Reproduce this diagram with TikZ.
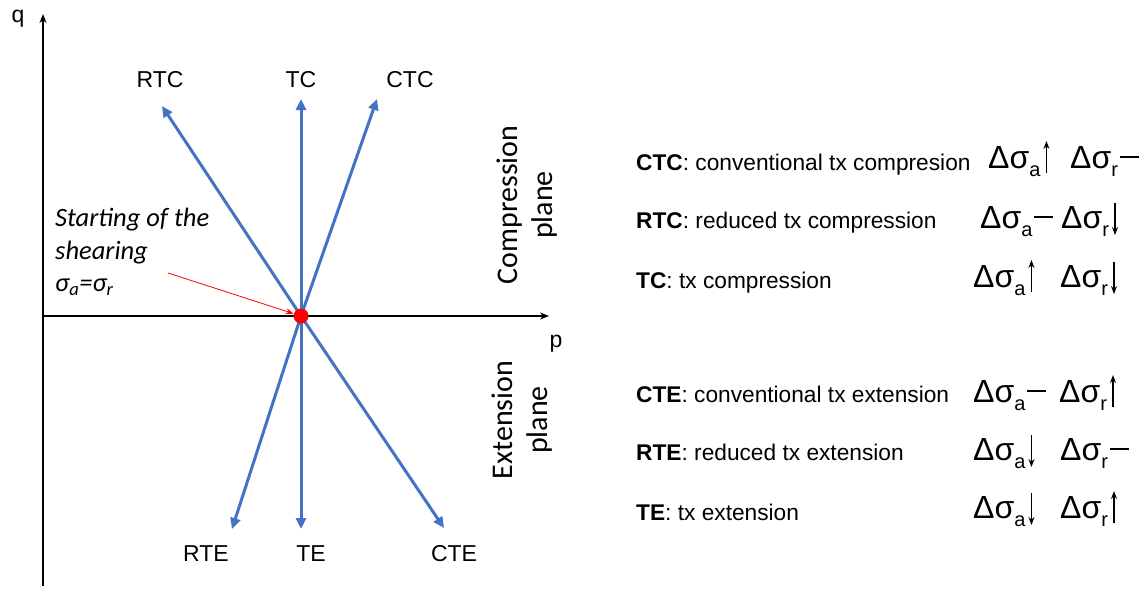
\documentclass[tikz,border=0pt]{standalone}
\usepackage{fontspec}
\setmainfont{Liberation Sans}
\newfontfamily\calib{Carlito}
\usetikzlibrary{arrows.meta}
\definecolor{pathblue}{RGB}{68,114,196}
\newcommand\dsig[2]{Δσ\raisebox{-8pt}{\fontsize{20pt}{22pt}\selectfont #1}#2}
\newcommand\uar{\hspace{3pt}\tikz[baseline=0pt,x=1pt,y=1pt]\draw[line width=1.4pt,-{Stealth[length=8pt,width=6pt]}] (0,-5)--(0,27);}
\newcommand\dar{\hspace{3pt}\tikz[baseline=0pt,x=1pt,y=1pt]\draw[line width=1.4pt,-{Stealth[length=8pt,width=6pt]}] (0,25)--(0,-7);}
\newcommand\flatbar{\hspace{1pt}\tikz[baseline=0pt,x=1pt,y=1pt]\draw[line width=1.4pt] (0,11)--(19,11);}
\begin{document}
\begin{tikzpicture}[x=1pt,y=-1pt,
  axis/.style={line width=1.3pt,-{Stealth[length=9pt,width=7pt]}},
  path/.style={line width=3pt,pathblue,-{Triangle[length=11pt,width=10pt]}},
  lbl/.style={font=\fontsize{23pt}{27pt}\selectfont},
  leg/.style={font=\fontsize{22.7pt}{26pt}\selectfont,anchor=base west,inner sep=0pt},
  dl/.style={font=\fontsize{32pt}{36pt}\selectfont,anchor=base west,inner sep=0pt},
  plane/.style={font=\calib\fontsize{30pt}{35pt}\selectfont,rotate=90,align=center}]
\useasboundingbox (0,0) rectangle (1148,590);
% axes
\coordinate (qs) at (43,586);
\coordinate (qe) at (43,14);
\coordinate (ps) at (43,316);
\coordinate (pe) at (549,316);
\draw[axis] (qs) -- (qe);
\draw[axis] (ps) -- (pe);
\node[lbl] (q) at (18,19) {q};
\node[lbl] (p) at (556,344) {p};
% origin
\coordinate (o) at (301,316);
\coordinate (rtc) at (162,106);
\coordinate (tc) at (301,99);
\coordinate (ctc) at (377,99);
\coordinate (rte) at (232,529);
\coordinate (te) at (301,529);
\coordinate (cte) at (444,528);
\foreach \t in {rtc,tc,ctc,rte,te,cte} \draw[path] (o) -- (\t);
\node[circle,fill=red,minimum size=15pt,inner sep=0pt] (dot) at (o) {};
\node[lbl] (Lrtc) at (160,80) {RTC};
\node[lbl] (Ltc) at (301,80) {TC};
\node[lbl] (Lctc) at (410,80) {CTC};
\node[lbl] (Lrte) at (206,554) {RTE};
\node[lbl] (Lte) at (311,554) {TE};
\node[lbl] (Lcte) at (454,554) {CTE};
% planes
\node[plane] (comp) at (527,205) {Compression\\plane};
\node[plane] (ext) at (522,420) {Extension\\plane};
% annotation
\node[font=\calib\itshape\fontsize{26.5pt}{32.5pt}\selectfont,align=left,anchor=west,inner sep=0pt] (ann) at (55,252)
  {Starting of the\\shearing\\σ\textsubscript{a}=σ\textsubscript{r}};
\coordinate (as) at (168,273);
\draw[red,line width=0.8pt,-{Stealth[length=8pt,width=6pt]}] (as) -- (dot);
% legend
\node[leg] (l1) at (636,170) {\textbf{CTC}: conventional tx compresion};
\node[leg] (l2) at (636,228) {\textbf{RTC}: reduced tx compression};
\node[leg] (l3) at (636,288) {\textbf{TC}: tx compression};
\node[leg] (l4) at (636,402) {\textbf{CTE}: conventional tx extension};
\node[leg] (l5) at (636,460) {\textbf{RTE}: reduced tx extension};
\node[leg] (l6) at (636,520) {\textbf{TE}: tx extension};
\node[dl] (a1) at (988,168) {\dsig{a}{\uar}};
\node[dl] (r1) at (1070,168) {\dsig{r}{\flatbar}};
\node[dl] (a2) at (980,228) {\dsig{a}{\flatbar}};
\node[dl] (r2) at (1061,228) {\dsig{r}{\dar}};
\node[dl] (a3) at (973,287) {\dsig{a}{\uar}};
\node[dl] (r3) at (1060,287) {\dsig{r}{\dar}};
\node[dl] (a4) at (973,402) {\dsig{a}{\flatbar}};
\node[dl] (r4) at (1059,402) {\dsig{r}{\uar}};
\node[dl] (a5) at (973,460) {\dsig{a}{\dar}};
\node[dl] (r5) at (1060,460) {\dsig{r}{\flatbar}};
\node[dl] (a6) at (973,518) {\dsig{a}{\dar}};
\node[dl] (r6) at (1060,518) {\dsig{r}{\uar}};
\end{tikzpicture}
\end{document}
